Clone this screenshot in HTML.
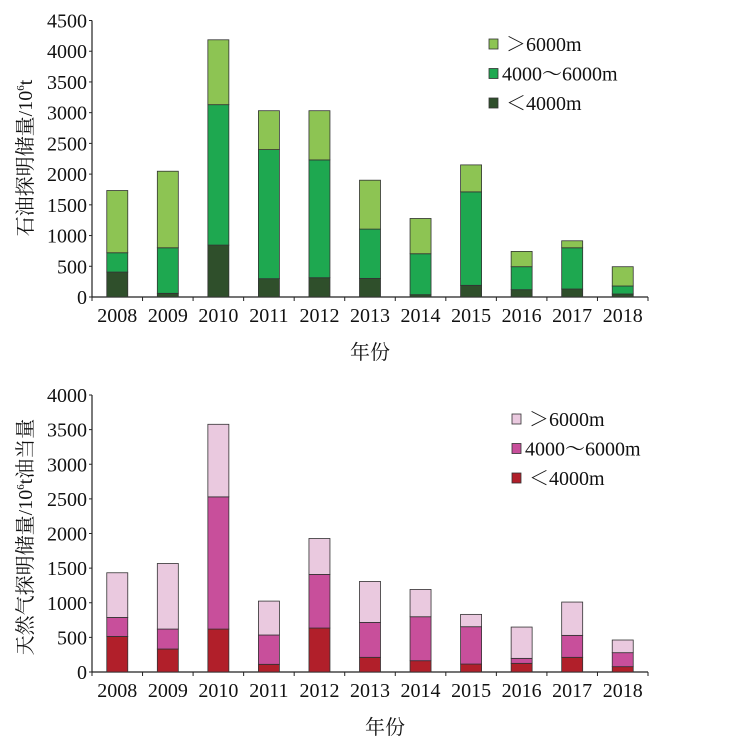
<!DOCTYPE html>
<html><head><meta charset="utf-8"><style>
body{margin:0;background:#fff;}
svg{display:block;font-family:"Liberation Serif","Noto Serif CJK SC",serif;}
</style></head><body>
<svg id="c" width="732" height="745" viewBox="0 0 732 745"></svg>
<script>
const years=["2008","2009","2010","2011","2012","2013","2014","2015","2016","2017","2018"];
const oilLow=[406,60,845,298,314,303,38,190,119,130,49];
const oilMidTop=[720,801,3130,2399,2231,1105,704,1711,493,801,179];
const oilTotal=[1733,2047,4186,3032,3032,1901,1278,2150,742,915,493];
const gasLow=[514,332,620,111,635,212,163,115,125,212,77];
const gasMidTop=[788,620,2529,534,1409,716,798,654,197,529,279];
const gasTotal=[1433,1567,3577,1024,1928,1308,1192,832,649,1010,462];
const oilTicks=[0,500,1000,1500,2000,2500,3000,3500,4000,4500];
const gasTicks=[0,500,1000,1500,2000,2500,3000,3500,4000];
const legendLabels=["＞6000m","4000～6000m","＜4000m"];
const NS="http://www.w3.org/2000/svg";
const svg=document.getElementById('c');
function mk(tag,attrs,parent,text){const e=document.createElementNS(NS,tag);for(const k in attrs)e.setAttribute(k,attrs[k]);if(text!==undefined)e.textContent=text;(parent||svg).appendChild(e);return e;}
function chart(cfg){
  const g=mk('g',{});
  
  
  const x0=92,x1=648,y0=cfg.y0,yTop=cfg.yTop,max=cfg.max;
  const ys=v=>y0-(v/max)*(y0-yTop);
  const bw=(x1-x0)/years.length;
  const xc=i=>x0+bw*(i+0.5);
  const ax=mk('line',{x1:x0,y1:yTop,x2:x0,y2:y0,stroke:'#222','stroke-width':1.2},g);
  
  const bx=mk('line',{x1:x0,y1:y0,x2:x1,y2:y0,stroke:'#222','stroke-width':1.2},g);
  
  cfg.ticks.forEach(t=>{
    mk('line',{x1:x0-3,y1:ys(t),x2:x0,y2:ys(t),stroke:'#222'},g);
    const tl=mk('text',{x:x0-5,y:ys(t)+7,'text-anchor':'end','font-size':20,fill:'#111'},g,String(t));
    
  });
  for(let i=0;i<=years.length;i++){mk('line',{x1:x0+bw*i,y1:y0,x2:x0+bw*i,y2:y0+4,stroke:'#222'},g);}
  years.forEach((yr,i)=>{
    const tl=mk('text',{x:xc(i),y:y0+25,'text-anchor':'middle','font-size':20,fill:'#111'},g,yr);
    
    const w=21,xl=xc(i)-w/2;
    const segs=[[0,cfg.low[i],cfg.colors[2],'low'],[cfg.low[i],cfg.mid[i],cfg.colors[1],'mid'],[cfg.mid[i],cfg.total[i],cfg.colors[0],'high']];
    segs.forEach(s=>{
      const r=mk('rect',{x:xl,y:ys(s[1]),width:w,height:Math.max(0,ys(s[0])-ys(s[1])),fill:s[2],stroke:'#333','stroke-width':0.8},g);
      
      
    });
  });
  const yt=mk('text',{x:0,y:0,transform:`translate(${cfg.ytx},${cfg.yty}) rotate(-90)`,'text-anchor':'middle','font-size':20,fill:'#111'},g);
  
  yt.innerHTML=cfg.ytitle;
  const xt=mk('text',{x:cfg.xtx,y:cfg.xty,'text-anchor':'middle','font-size':20,fill:'#111'},g,'年份');
  
  legendLabels.forEach((lb,k)=>{
    const ly=cfg.ly+k*29.5;
    const sq=mk('rect',{x:cfg.lx,y:ly-5,width:9,height:10,fill:cfg.colors[k],stroke:'#333','stroke-width':0.8},g);
    
    const t=mk('text',{x:cfg.lx+(k==1?13:17),y:ly+7,'font-size':20,fill:'#111'},g,lb);
    
  });
}
chart({name:'oil-chart',y0:297,yTop:20.5,max:4500,ticks:oilTicks,low:oilLow,mid:oilMidTop,total:oilTotal,
  colors:['#8dc453','#1ea850','#2f4f2b'],ytitle:'石油探明储量/10<tspan font-size="11" dy="-8">6</tspan><tspan dy="8">t</tspan>',ytx:32,yty:158,xtx:370,xty:359,lx:489,ly:44});
chart({name:'gas-chart',y0:672,yTop:395,max:4000,ticks:gasTicks,low:gasLow,mid:gasMidTop,total:gasTotal,
  colors:['#eac9df','#c84f9b','#b11f2a'],ytitle:'天然气探明储量/10<tspan font-size="11" dy="-8">6</tspan><tspan dy="8">t油当量</tspan>',ytx:32,yty:537,xtx:385,xty:734,lx:512,ly:419});
</script>
</body></html>
